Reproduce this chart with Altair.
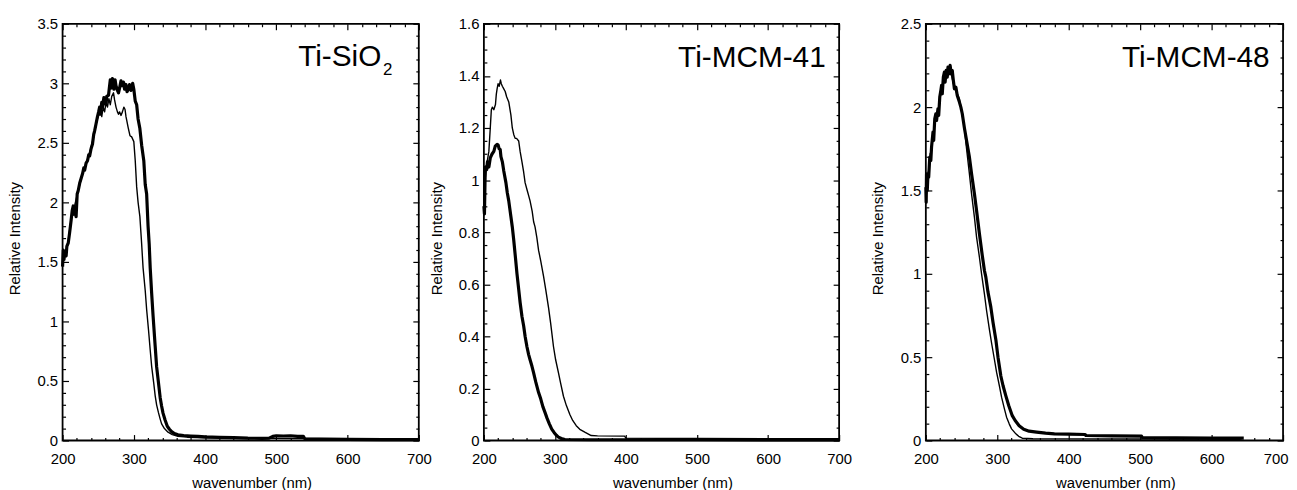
import altair as alt
import pandas as pd

# ---------------- data ----------------
# Panel 1: Ti-SiO2
p1_thick_wl = [200, 201, 202, 203, 205, 206, 208, 210, 212, 213.5, 215, 216, 218, 219, 220.5, 222, 224, 226, 228, 229.8,
               231, 233, 235, 236.7, 238, 240, 242, 243.7, 245, 247, 249, 250.6, 252, 253, 255, 256, 258, 260, 261, 262,
               264.5, 266, 267, 268, 270, 272, 273.7, 275, 277, 278.5, 280, 282, 284, 285.4, 287, 289, 290.5, 292.4, 294, 296,
               298.4, 300, 302, 304, 306, 308.5, 311, 314, 316, 318, 320, 321.6, 323, 325, 327, 330, 332, 334.5, 337, 339,
               341, 344, 347, 350, 353, 357, 362, 370, 380, 390, 400, 420, 440, 460, 480, 490, 495, 500, 510, 520,
               530, 538, 540, 560, 600, 650, 700]
p1_thick_v = [1.46, 1.60, 1.52, 1.58, 1.55, 1.63, 1.66, 1.75, 1.85, 1.93, 1.97, 1.90, 1.92, 1.88, 2.07, 2.10, 2.16, 2.20, 2.24, 2.29,
              2.27, 2.33, 2.35, 2.40, 2.39, 2.45, 2.49, 2.57, 2.60, 2.66, 2.72, 2.76, 2.80, 2.74, 2.84, 2.80, 2.88, 2.85, 2.82, 2.89,
              2.90, 2.98, 3.03, 2.96, 3.04, 2.95, 3.03, 2.98, 2.94, 2.92, 2.96, 3.02, 2.98, 3.01, 2.95, 2.99, 2.93, 2.95, 2.99, 2.94,
              3.00, 2.95, 2.85, 2.82, 2.70, 2.62, 2.48, 2.35, 2.15, 2.07, 1.80, 1.65, 1.45, 1.24, 1.05, 0.79, 0.62, 0.49, 0.36, 0.29,
              0.23, 0.17, 0.12, 0.095, 0.075, 0.058, 0.048, 0.042, 0.038, 0.035, 0.030, 0.027, 0.025, 0.020, 0.018, 0.020, 0.035, 0.040, 0.038, 0.040,
              0.035, 0.035, 0.015, 0.012, 0.010, 0.008, 0.008]
p1_thin_wl = [200, 202, 204, 206, 208, 210, 213, 216, 220, 224, 228, 232, 236, 240, 244, 248, 251, 253, 255, 257,
              259, 261, 263, 265, 267, 269, 271.5, 273, 275, 277, 278.5, 280, 282, 284, 286, 287.7, 289, 290, 292, 294.6,
              297, 300, 302, 304, 306, 308.5, 311, 313, 316, 318, 320.6, 323, 325, 328, 330, 332, 334.5, 337, 339, 343,
              348, 354, 362, 375, 400, 450, 500, 600, 700]
p1_thin_v = [1.50, 1.55, 1.58, 1.62, 1.68, 1.77, 1.90, 1.95, 2.05, 2.15, 2.24, 2.31, 2.38, 2.46, 2.56, 2.68, 2.75, 2.78, 2.72, 2.80,
             2.76, 2.84, 2.80, 2.87, 2.82, 2.89, 2.92, 2.86, 2.80, 2.76, 2.74, 2.76, 2.73, 2.76, 2.80, 2.78, 2.72, 2.69, 2.63, 2.56,
             2.55, 2.51, 2.35, 2.13, 2.00, 1.88, 1.65, 1.45, 1.26, 1.10, 0.93, 0.76, 0.625, 0.48, 0.375, 0.30, 0.236, 0.18, 0.14, 0.10,
             0.07, 0.05, 0.036, 0.028, 0.022, 0.020, 0.018, 0.015, 0.012]

# Panel 2: Ti-MCM-41
p2_thin_wl = [200, 201, 202, 204, 207, 209, 210.5, 212, 214, 216.3, 217.5, 218.6, 220, 221.5, 223.3, 224.5, 226, 228, 230, 232,
              235, 238, 240, 242, 244, 246, 249, 251, 253.6, 256, 258, 261, 263, 265, 268, 270, 272, 274.5, 277, 280,
              284, 287, 291, 294, 298, 301, 305, 308, 312, 316, 321, 325, 330, 335, 342, 351, 360, 398, 400, 500,
              600, 700]
p2_thin_v = [0.895, 0.95, 1.01, 1.06, 1.11, 1.20, 1.27, 1.28, 1.27, 1.29, 1.33, 1.35, 1.37, 1.36, 1.384, 1.37, 1.36, 1.35, 1.34, 1.32,
             1.30, 1.25, 1.20, 1.175, 1.16, 1.16, 1.15, 1.11, 1.07, 1.03, 0.99, 0.96, 0.94, 0.92, 0.88, 0.84, 0.82, 0.78, 0.73, 0.69,
             0.63, 0.58, 0.51, 0.45, 0.36, 0.31, 0.26, 0.22, 0.17, 0.135, 0.10, 0.077, 0.057, 0.043, 0.032, 0.019, 0.018, 0.017, 0.009, 0.008,
             0.007, 0.007]
p2_thick_wl = [200, 200.8, 201.5, 202, 204, 205, 207, 209, 211.5, 214, 216, 218.6, 220, 221.5, 223, 224, 226, 228, 231, 233,
               235, 238, 240, 242, 244.5, 246.6, 249, 251, 253.6, 256, 258, 260.6, 263, 265, 267.6, 270, 273, 277, 280, 283,
               286, 289, 292, 295.5, 299, 302, 305, 309, 314, 350, 400, 500, 600, 700]
p2_thick_v = [0.90, 0.87, 0.98, 1.05, 1.04, 1.07, 1.05, 1.085, 1.10, 1.11, 1.13, 1.137, 1.135, 1.12, 1.117, 1.09, 1.07, 1.035, 0.99, 0.95,
              0.92, 0.86, 0.82, 0.77, 0.70, 0.64, 0.58, 0.53, 0.476, 0.44, 0.40, 0.36, 0.33, 0.31, 0.286, 0.26, 0.225, 0.184, 0.16, 0.13,
              0.108, 0.085, 0.065, 0.044, 0.030, 0.020, 0.013, 0.008, 0.004, 0.003, 0.003, 0.003, 0.002, 0.002]

# Panel 3: Ti-MCM-48
p3_thick_wl = [200, 200.5, 201, 202, 203, 204, 205.5, 207, 208, 210, 211, 212.5, 214, 215, 217, 218, 219.5, 221, 222, 223,
               224.5, 226, 227, 228.5, 230, 231, 232.5, 234, 235.6, 237, 238.5, 240, 242, 244, 245.5, 247, 249, 251, 254, 257,
               261, 264, 268, 271, 275, 279, 282, 284, 287, 291, 294, 298, 301, 305, 308, 312, 316, 321, 325, 330.6,
               337, 344.5, 355, 367.6, 380, 400, 423, 424, 460, 502, 503, 550, 600, 645]
p3_thick_v = [1.52, 1.43, 1.60, 1.50, 1.60, 1.58, 1.70, 1.68, 1.76, 1.85, 1.80, 1.93, 1.96, 1.92, 1.99, 1.95, 2.06, 2.10, 2.13, 2.08,
              2.18, 2.21, 2.15, 2.22, 2.18, 2.24, 2.20, 2.25, 2.20, 2.22, 2.16, 2.11, 2.12, 2.07, 2.05, 2.03, 2.00, 1.96, 1.875, 1.80,
              1.70, 1.60, 1.48, 1.38, 1.24, 1.11, 1.02, 0.98, 0.89, 0.80, 0.71, 0.605, 0.50, 0.387, 0.33, 0.268, 0.21, 0.149, 0.12, 0.089,
              0.068, 0.056, 0.050, 0.044, 0.040, 0.038, 0.036, 0.030, 0.028, 0.026, 0.018, 0.016, 0.015, 0.014]
p3_thin_wl = [200, 201, 202, 204, 206, 208, 210, 212, 214, 216, 218, 220, 222, 224, 226, 228, 230, 232, 234, 236,
              238, 240, 243, 247, 250, 254, 257, 261, 264, 268, 271, 275, 278, 282, 285, 289, 292, 296, 299, 303,
              306, 310, 313, 316.7, 320, 326, 330, 335, 350, 400, 500, 640]
p3_thin_v = [1.55, 1.48, 1.58, 1.62, 1.72, 1.74, 1.82, 1.90, 1.94, 1.97, 2.00, 2.08, 2.12, 2.15, 2.18, 2.20, 2.21, 2.23, 2.21, 2.19,
             2.15, 2.12, 2.09, 2.05, 1.98, 1.875, 1.75, 1.60, 1.48, 1.34, 1.22, 1.10, 1.00, 0.88, 0.78, 0.665, 0.585, 0.486, 0.41, 0.327,
             0.26, 0.19, 0.14, 0.10, 0.07, 0.04, 0.025, 0.014, 0.011, 0.010, 0.009, 0.008]

panel_titles = ["Ti-SiO", "Ti-MCM-41", "Ti-MCM-48"]
subscript = "2"
y_max = [3.5, 1.6, 2.5]
y_major_step = [0.5, 0.2, 0.5]
y_minor_step = [0.1, 0.05, 0.1]
x_major = [200, 300, 400, 500, 600, 700]
x_minor = [v for v in range(220, 700, 20) if v % 100 != 0]

FONT = "Liberation Sans"


def frame(thick_wl, thick_v, thin_wl, thin_v):
    return pd.concat([
        pd.DataFrame({"wl": thick_wl, "v": thick_v, "s": "thick"}),
        pd.DataFrame({"wl": thin_wl, "v": thin_v, "s": "thin"}),
    ], ignore_index=True)


def steps(top, step):
    n = int(round(top / step))
    return [round(i * step, 4) for i in range(n + 1)]


def panel(df, ymax, ymaj, ymin, w, h, title, sub=None, pull_last=False):
    xs = alt.Scale(domain=[200, 700], nice=False, zero=False)
    ys = alt.Scale(domain=[0, ymax], nice=False)
    y_major = steps(ymax, ymaj)
    y_minor = [v for v in steps(ymax, ymin) if all(abs(v - m) > 1e-6 for m in y_major)]
    base = alt.Chart(df)

    x_axis_kw = dict(
        orient="bottom", values=x_major, format="d", ticks=False, tickSize=0, domain=False, grid=False,
        labelFlush=False, labelPadding=23, labelBaseline="alphabetic", title="wavenumber (nm)",
        titleX=w / 2 + 11, titleY=47, titleBaseline="alphabetic", titleAlign="center")
    if pull_last:
        # keep the last label inside the page edge
        x_axis_kw["labelAlign"] = {"condition": {"test": "datum.value === 700", "value": "right"}, "value": "center"}
        x_axis_kw["labelOffset"] = {"condition": {"test": "datum.value === 700", "value": 5}, "value": 0}

    lines = base.mark_line(color="black", strokeJoin="round").encode(
        x=alt.X("wl:Q", scale=xs, axis=alt.Axis(**x_axis_kw)),
        y=alt.Y("v:Q", scale=ys, axis=alt.Axis(
            orient="left", values=y_major, format="~g", ticks=False, tickSize=0, domain=False, grid=False,
            labelFlush=False, labelPadding=5, title="Relative Intensity",
            titleX=-43.2, titleY=h / 2 + 6, titleBaseline="alphabetic", titleAlign="center", titleAngle=270)),
        detail="s:N",
        strokeWidth=alt.StrokeWidth("s:N", scale=alt.Scale(domain=["thick", "thin"], range=[3.2, 1.4]), legend=None),
    )

    def tick_layer(xo, yo, xv, yv, size):
        return base.mark_point(opacity=0).encode(
            x=alt.X("wl:Q", scale=xs, axis=alt.Axis(
                orient=xo, values=xv, labels=False, ticks=True, tickSize=size, offset=-size,
                domain=False, grid=False, title=None, tickColor="black", tickWidth=1.2)),
            y=alt.Y("v:Q", scale=ys, axis=alt.Axis(
                orient=yo, values=yv, labels=False, ticks=True, tickSize=size, offset=-size,
                domain=False, grid=False, title=None, tickColor="black", tickWidth=1.2)),
        )

    layers = [
        lines,
        tick_layer("bottom", "left", x_major, y_major, 6),
        tick_layer("top", "right", x_major, y_major, 6),
        tick_layer("bottom", "left", x_minor, y_minor, 3),
        tick_layer("top", "right", x_minor, y_minor, 3),
    ]
    if sub is None:
        layers.append(alt.Chart(alt.InlineData(values=[{"t": title}])).mark_text(
            align="right", baseline="alphabetic", fontSize=30, font=FONT, color="black"
        ).encode(x=alt.value(w - 13.5), y=alt.value(43.3), text="t:N"))
    else:
        layers.append(alt.Chart(alt.InlineData(values=[{"t": title}])).mark_text(
            align="left", baseline="alphabetic", fontSize=30, font=FONT, color="black"
        ).encode(x=alt.value(237.4), y=alt.value(42.6), text="t:N"))
        layers.append(alt.Chart(alt.InlineData(values=[{"t": sub}])).mark_text(
            align="left", baseline="alphabetic", fontSize=17, font=FONT, color="black"
        ).encode(x=alt.value(323), y=alt.value(51.6), text="t:N"))

    return alt.layer(*layers).resolve_axis(x="independent", y="independent").properties(width=w, height=h)


df1 = frame(p1_thick_wl, p1_thick_v, p1_thin_wl, p1_thin_v)
df2 = frame(p2_thick_wl, p2_thick_v, p2_thin_wl, p2_thin_v)
df3 = frame(p3_thick_wl, p3_thick_v, p3_thin_wl, p3_thin_v)

c1 = panel(df1, y_max[0], y_major_step[0], y_minor_step[0], 359, 420, panel_titles[0], subscript)
c2 = panel(df2, y_max[1], y_major_step[1], y_minor_step[1], 358, 420, panel_titles[1])
c3 = panel(df3, y_max[2], y_major_step[2], y_minor_step[2], 360, 420, panel_titles[2], pull_last=True)

inner = alt.hconcat(c1, c2, spacing=65.6, bounds="flush")
chart = alt.hconcat(inner, c3, spacing=16).properties(
    padding={"left": -2, "top": 6, "right": 0, "bottom": 0},
    background="white",
).configure_view(
    stroke="black", strokeWidth=1.8, fill="white"
).configure_axis(
    labelFont=FONT, titleFont=FONT, labelFontSize=15, titleFontSize=15,
    labelColor="black", titleColor="black", titleFontWeight="normal"
)

chart.save("out.html", embed_options={"renderer": "svg", "actions": False})
